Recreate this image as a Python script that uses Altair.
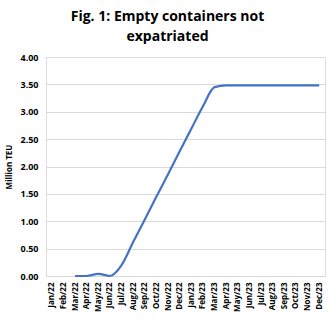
import altair as alt
import pandas as pd

months = ["Jan/22", "Feb/22", "Mar/22", "Apr/22", "May/22", "Jun/22", "Jul/22", "Aug/22",
          "Sep/22", "Oct/22", "Nov/22", "Dec/22", "Jan/23", "Feb/23", "Mar/23", "Apr/23",
          "May/23", "Jun/23", "Jul/23", "Aug/23", "Sep/23", "Oct/23", "Nov/23", "Dec/23"]
values = [None, None, 0.0, 0.0, 0.04, 0.0, 0.2, 0.62, 1.03, 1.45, 1.86, 2.28, 2.69, 3.1,
          3.45, 3.48, 3.48, 3.48, 3.48, 3.48, 3.48, 3.48, 3.48, 3.48]
y_ticks = [0, 0.5, 1.0, 1.5, 2.0, 2.5, 3.0, 3.5, 4.0]

df = pd.DataFrame({"month": months, "teu": values}).dropna()

FONT = "Open Sans"

chart = alt.Chart(df).mark_line(
    color="#4472C4", strokeWidth=2.2, interpolate="monotone"
).encode(
    x=alt.X("month:N", sort=months,
            scale=alt.Scale(domain=months, type="point", padding=0.5),
            axis=alt.Axis(title=None, labelAngle=270, labelFontSize=8, labelFontWeight="bold",
                          labelColor="#000000", labelFont=FONT, ticks=False, domain=False,
                          grid=False, labelPadding=6, labelOverlap=False, values=months,
                          labelBound=False)),
    y=alt.Y("teu:Q", scale=alt.Scale(domain=[0, 4]),
            axis=alt.Axis(title="Million TEU", values=y_ticks, format=".2f",
                          labelFontSize=9, labelFontWeight="bold", labelColor="#000000",
                          labelFont=FONT, titleFont=FONT, titleFontSize=8,
                          titleFontWeight="bold", titleColor="#000000", titlePadding=6,
                          ticks=False, domain=False, gridColor="#d9d9d9", labelPadding=8))
).properties(
    width=279, height=219,
    title=alt.TitleParams(text=["Fig. 1: Empty containers not", "expatriated"],
                          font=FONT, fontSize=14, fontWeight="bold", color="#000000",
                          anchor="middle", dx=-18, offset=9, lineHeight=20),
    autosize=alt.AutoSizeParams(type="none"),
    padding={"left": 46, "top": 57, "right": 9, "bottom": 47}
).configure_view(stroke=None).configure(background="#ffffff")

chart.save("out.html", embed_options={"renderer": "svg", "actions": False})
